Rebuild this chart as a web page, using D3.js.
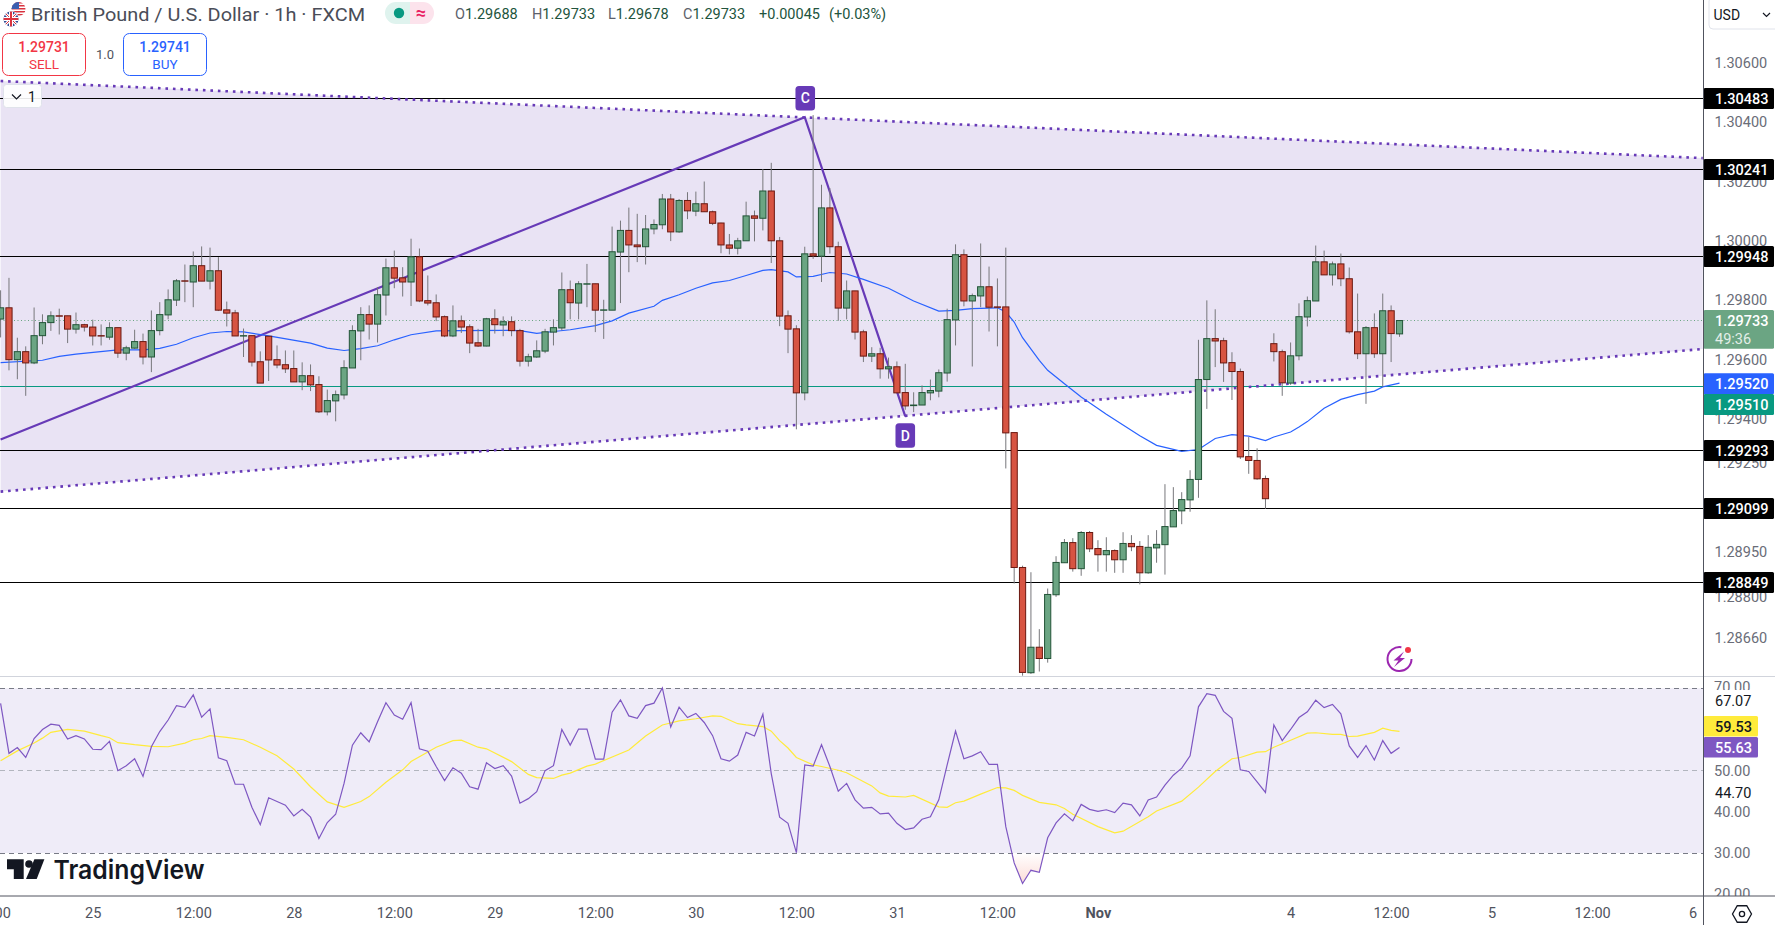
<!DOCTYPE html>
<html><head><meta charset="utf-8">
<script src="https://cdnjs.cloudflare.com/ajax/libs/d3/7.8.5/d3.min.js"></script>
<style>html,body{margin:0;padding:0;background:#fff;overflow:hidden}svg{display:block}text{font-family:Roboto,sans-serif}</style>
</head><body><svg id="c" width="1775" height="925"></svg>
<script>
const opens=[1.29738,1.29776,1.29601,1.29628,1.29590,1.29682,1.29726,1.29749,1.29749,1.29704,1.29719,1.29711,1.29682,1.29677,1.29709,1.29623,1.29640,1.29662,1.29610,1.29699,1.29752,1.29802,1.29867,1.29863,1.29918,1.29866,1.29901,1.29769,1.29759,1.29681,1.29682,1.29594,1.29680,1.29601,1.29584,1.29571,1.29526,1.29547,1.29517,1.29425,1.29462,1.29482,1.29573,1.29698,1.29753,1.29721,1.29819,1.29911,1.29877,1.29863,1.29948,1.29800,1.29793,1.29746,1.29681,1.29732,1.29712,1.29658,1.29647,1.29739,1.29718,1.29729,1.29699,1.29596,1.29610,1.29630,1.29694,1.29708,1.29837,1.29792,1.29856,1.29857,1.29768,1.29768,1.29964,1.30037,1.29988,1.29982,1.30042,1.30056,1.30143,1.30032,1.30138,1.30102,1.30127,1.30100,1.30062,1.29988,1.29977,1.30002,1.30086,1.30078,1.30170,1.30002,1.29749,1.29705,1.29489,1.29958,1.29950,1.30113,1.29982,1.29775,1.29833,1.29695,1.29613,1.29621,1.29570,1.29577,1.29490,1.29446,1.29448,1.29489,1.29495,1.29556,1.29735,1.29955,1.29799,1.29816,1.29847,1.29779,1.29779,1.29355,1.28900,1.28545,1.28631,1.28593,1.28808,1.28916,1.28984,1.28896,1.29018,1.28964,1.28943,1.28957,1.28926,1.28981,1.28971,1.28882,1.28966,1.28977,1.29037,1.29091,1.29128,1.29197,1.29534,1.29672,1.29665,1.29591,1.29561,1.29274,1.29261,1.29200,1.29655,1.29628,1.29522,1.29614,1.29745,1.29799,1.29931,1.29887,1.29924,1.29874,1.29695,1.29621,1.29709,1.29621,1.29766,1.29688];
const highs=[1.29835,1.29877,1.29675,1.29646,1.29777,1.29754,1.29764,1.29773,1.29749,1.29760,1.29722,1.29736,1.29720,1.29727,1.29709,1.29648,1.29702,1.29689,1.29767,1.29795,1.29838,1.29873,1.29922,1.29966,1.29983,1.29979,1.29947,1.29797,1.29769,1.29706,1.29682,1.29629,1.29680,1.29649,1.29632,1.29632,1.29592,1.29585,1.29545,1.29500,1.29497,1.29599,1.29717,1.29778,1.29784,1.29846,1.29942,1.29969,1.29913,1.30009,1.29976,1.29885,1.29821,1.29750,1.29784,1.29750,1.29720,1.29705,1.29742,1.29771,1.29747,1.29747,1.29705,1.29621,1.29666,1.29705,1.29737,1.29895,1.29868,1.29866,1.29924,1.29857,1.29803,1.30050,1.30070,1.30114,1.30093,1.30089,1.30074,1.30160,1.30160,1.30143,1.30166,1.30168,1.30202,1.30104,1.30063,1.30025,1.30012,1.30134,1.30104,1.30244,1.30265,1.30015,1.29767,1.29717,1.29982,1.30426,1.30191,1.30180,1.29999,1.29868,1.29833,1.29702,1.29643,1.29641,1.29608,1.29595,1.29587,1.29491,1.29514,1.29534,1.29568,1.29773,1.29990,1.29973,1.29824,1.29993,1.29915,1.29875,1.29979,1.29355,1.28906,1.28884,1.28692,1.28829,1.28938,1.28996,1.28999,1.29023,1.29023,1.28992,1.29002,1.28961,1.29019,1.29009,1.28989,1.29009,1.29026,1.29181,1.29171,1.29154,1.29228,1.29668,1.29801,1.29771,1.29675,1.29626,1.29571,1.29340,1.29302,1.29210,1.29690,1.29635,1.29659,1.29791,1.29814,1.29986,1.29969,1.29932,1.29959,1.29912,1.29824,1.29714,1.29757,1.29824,1.29784,1.29733];
const lows=[1.29676,1.29565,1.29535,1.29479,1.29586,1.29653,1.29698,1.29686,1.29657,1.29689,1.29696,1.29649,1.29649,1.29668,1.29607,1.29599,1.29638,1.29585,1.29559,1.29683,1.29737,1.29782,1.29795,1.29778,1.29866,1.29838,1.29765,1.29713,1.29681,1.29610,1.29578,1.29522,1.29529,1.29572,1.29556,1.29526,1.29498,1.29495,1.29421,1.29413,1.29393,1.29467,1.29573,1.29599,1.29669,1.29659,1.29750,1.29842,1.29814,1.29782,1.29795,1.29784,1.29731,1.29677,1.29677,1.29691,1.29623,1.29644,1.29646,1.29689,1.29680,1.29680,1.29578,1.29578,1.29607,1.29623,1.29649,1.29700,1.29737,1.29737,1.29778,1.29694,1.29671,1.29768,1.29792,1.29896,1.29930,1.29922,1.30024,1.30041,1.30001,1.30029,1.30075,1.30085,1.30100,1.30055,1.29960,1.29956,1.29956,1.30002,1.30000,1.30037,1.29927,1.29714,1.29623,1.29366,1.29464,1.29941,1.29863,1.29959,1.29732,1.29737,1.29669,1.29593,1.29593,1.29537,1.29537,1.29489,1.29432,1.29424,1.29448,1.29464,1.29474,1.29527,1.29649,1.29781,1.29578,1.29778,1.29696,1.29646,1.29234,1.28846,1.28535,1.28541,1.28549,1.28579,1.28801,1.28916,1.28886,1.28872,1.28952,1.28886,1.28886,1.28882,1.28882,1.28955,1.28843,1.28879,1.28916,1.28876,1.29037,1.29046,1.29088,1.29135,1.29435,1.29576,1.29526,1.29465,1.29266,1.29216,1.29196,1.29098,1.29595,1.29479,1.29516,1.29599,1.29713,1.29799,1.29887,1.29851,1.29849,1.29689,1.29603,1.29452,1.29607,1.29510,1.29593,1.29678];
const closes=[1.29776,1.29601,1.29628,1.29590,1.29682,1.29726,1.29749,1.29748,1.29704,1.29719,1.29711,1.29681,1.29681,1.29709,1.29623,1.29641,1.29662,1.29610,1.29699,1.29753,1.29803,1.29867,1.29866,1.29918,1.29866,1.29901,1.29768,1.29758,1.29681,1.29682,1.29593,1.29522,1.29600,1.29583,1.29570,1.29526,1.29547,1.29516,1.29425,1.29463,1.29483,1.29574,1.29699,1.29753,1.29721,1.29820,1.29911,1.29876,1.29863,1.29948,1.29799,1.29792,1.29745,1.29681,1.29732,1.29711,1.29657,1.29647,1.29739,1.29719,1.29729,1.29699,1.29596,1.29611,1.29631,1.29695,1.29709,1.29837,1.29793,1.29857,1.29857,1.29768,1.29769,1.29965,1.30037,1.29988,1.29982,1.30042,1.30057,1.30143,1.30032,1.30138,1.30103,1.30127,1.30100,1.30061,1.29988,1.29977,1.30002,1.30086,1.30078,1.30170,1.30002,1.29748,1.29704,1.29489,1.29958,1.29951,1.30113,1.29982,1.29775,1.29833,1.29694,1.29613,1.29621,1.29570,1.29577,1.29489,1.29445,1.29448,1.29490,1.29497,1.29557,1.29736,1.29955,1.29799,1.29817,1.29847,1.29778,1.29778,1.29354,1.28900,1.28546,1.28631,1.28593,1.28809,1.28917,1.28984,1.28896,1.29018,1.28963,1.28943,1.28957,1.28926,1.28981,1.28970,1.28882,1.28968,1.28978,1.29038,1.29092,1.29129,1.29197,1.29534,1.29672,1.29664,1.29590,1.29561,1.29273,1.29261,1.29199,1.29132,1.29628,1.29523,1.29614,1.29746,1.29800,1.29931,1.29887,1.29924,1.29874,1.29695,1.29621,1.29709,1.29621,1.29766,1.29689,1.29733];

const maIdx=[0,5,7,9,14,17,19,21,23,25,27,29,32,37,39,41,43,45,47,49,52,55,60,62,64,66,68,71,73,75,78,79,81,83,85,87,89,91,92,94,95,97,99,101,103,106,109,112,114,116,119,120,121,122,124,125,127,129,132,136,138,141,143,145,147,149,151,152,154,155,156,158,160,162,164,165,167];
const maVal=[1.29591,1.29599,1.29612,1.29620,1.29634,1.29634,1.29639,1.29653,1.29675,1.29691,1.29696,1.29695,1.29681,1.29657,1.29640,1.29632,1.29638,1.29648,1.29668,1.29685,1.29698,1.29699,1.29700,1.29699,1.29690,1.29696,1.29702,1.29716,1.29732,1.29758,1.29781,1.29801,1.29820,1.29842,1.29860,1.29868,1.29885,1.29902,1.29905,1.29897,1.29880,1.29882,1.29895,1.29890,1.29872,1.29842,1.29799,1.29765,1.29767,1.29773,1.29776,1.29762,1.29728,1.29675,1.29599,1.29565,1.29520,1.29475,1.29417,1.29344,1.29312,1.29292,1.29298,1.29335,1.29348,1.29343,1.29328,1.29340,1.29357,1.29374,1.29392,1.29437,1.29467,1.29483,1.29495,1.29509,1.29522];

const rsiVal=[66.35,54.2,55.6,53.2,57.8,60.0,61.3,61.0,57.7,58.5,57.7,55.2,55.1,57.1,50.0,51.2,52.9,48.6,55.8,59.5,62.3,65.8,65.4,68.4,63.0,65.0,53.1,52.4,46.7,46.7,41.1,36.9,43.4,42.5,41.6,39.0,40.6,38.7,33.5,37.4,39.4,46.9,56.2,59.2,57.0,61.9,66.5,63.5,62.5,66.5,55.3,54.7,51.0,47.6,50.7,49.4,46.1,45.5,51.9,50.5,51.2,48.7,42.1,43.2,44.9,50.0,51.2,60.0,56.2,60.1,60.1,52.8,
52.8,64.2,67.2,63.3,62.7,65.8,66.4,70.1,60.6,65.4,62.9,63.9,61.7,58.5,52.9,52.3,53.8,59.3,58.4,63.7,49.3,38.7,37.2,30.1,51.4,51.1,56.3,51.0,45.0,46.9,42.9,40.9,41.1,39.5,39.7,37.2,35.7,36.1,38.2,38.8,42.9,51.4,59.6,52.9,53.6,54.6,51.5,51.5,36.4,27.6,22.6,25.8,25.3,33.7,37.3,39.5,37.8,41.8,40.6,40.1,40.5,39.8,42.1,41.7,39.0,42.9,43.6,46.5,48.9,50.6,53.6,65.5,
68.7,68.3,64.4,62.7,50.2,49.8,47.3,44.7,61.1,57.3,60.0,62.9,64.3,67.1,65.3,66.1,63.8,56.0,53.2,56.1,52.6,57.3,54.2,55.63];
const sigIdx=[0,2,4,5,6,8,10,12,13,14,16,18,20,22,23,24,25,27,29,31,33,35,37,39,41,43,44,46,48,49,52,54,55,57,58,61,63,64,66,67,68,70,71,75,77,79,81,83,85,86,88,89,91,92,93,94,95,97,98,100,101,104,105,106,108,109,112,113,114,115,117,119,120,121,122,124,126,127,128,131,133,134,137,138,141,143,145,147,148,150,151,152,154,156,157,159,160,161,162,164,165,166,167];
const sigVal=[52.4,54.8,56.7,57.9,59.3,60.0,59.6,58.5,58.0,56.8,56.3,55.9,55.8,56.7,57.5,57.8,58.5,58.1,57.5,55.7,53.6,50.4,46.1,42.4,41.1,42.5,43.7,47.2,50.2,52.2,55.7,57.3,57.4,55.7,55.3,52.2,49.1,48.3,48.1,48.9,49.4,51.1,51.6,55.0,58.4,61.1,62.1,62.6,63.3,63.2,61.4,61.1,60.7,59.6,57.3,55.5,53.2,51.4,51.0,50.1,49.5,46.3,44.6,43.8,43.6,44.0,41.2,41.1,42.2,42.6,44.3,45.9,45.8,45.2,44.0,42.3,41.7,40.8,39.4,36.4,34.9,35.3,38.8,40.2,42.6,46.0,49.8,52.9,53.2,54.5,54.6,55.7,57.4,59.1,59.2,58.8,58.8,58.3,58.4,59.3,60.3,59.8,59.53];

const levelPrices=[1.30483,1.30241,1.29948,1.29293,1.29099,1.28849];
const priceTicks=[1.306,1.304,1.302,1.300,1.298,1.296,1.294,1.2925,1.2895,1.288,1.2866];
const rsiTicks=[70,50,40,30,20];
const timeIdx=[-1,11,23,35,47,59,71,83,95,107,119,131,154,166,178,190,202];
const timeLabels=["12:00","25","12:00","28","12:00","29","12:00","30","12:00","31","12:00","Nov","4","12:00","5","12:00","6"];
const wedgeTopIdx=[0,203.2], wedgeTopPrice=[1.30541,1.30281];
const wedgeBotIdx=[0,203.2], wedgeBotPrice=[1.29156,1.29637];
const patternIdx=[0,96,108], patternPrice=[1.29332,1.30419,1.29410];
const lastPrice=1.29733, bidLine=1.29510;

const W=1775,axisX=1703.5,paneB=676,timeY=896;
const svg=d3.select('#c');
const x=d3.scaleLinear().domain([0,167]).range([0.6,1399.5]);
const y=d3.scaleLinear().domain([1.30483,1.28849]).range([98.2,582.6]);
const r=d3.scaleLinear().domain([70,30]).range([688.3,853]);
const snap=v=>Math.floor(v)+.5;
const GREY='#6a6d78',PURPLE='#673ab7';
const defs=svg.append('defs');
defs.append('clipPath').attr('id','mainClip').append('rect').attr('x',0).attr('y',0).attr('width',axisX).attr('height',paneB);
defs.append('clipPath').attr('id','below').append('rect').attr('x',0).attr('y',r(30)).attr('width',axisX).attr('height',timeY-r(30));
const gr=defs.append('linearGradient').attr('id','ob').attr('gradientUnits','userSpaceOnUse').attr('x1',0).attr('x2',0).attr('y1',r(30)).attr('y2',r(22));
gr.append('stop').attr('offset','0').attr('stop-color','#fff');
gr.append('stop').attr('offset','1').attr('stop-color','#fcd9d4');

const main=svg.append('g').attr('clip-path','url(#mainClip)');
const wedge=[[wedgeTopIdx[0],wedgeTopPrice[0]],[wedgeTopIdx[1],wedgeTopPrice[1]],[wedgeBotIdx[1],wedgeBotPrice[1]],[wedgeBotIdx[0],wedgeBotPrice[0]]];
const ln=d3.line().x(d=>x(d[0])).y(d=>y(d[1]));
main.append('path').attr('d',ln(wedge)+'Z').attr('fill','#e9e3f4');
main.selectAll('.lvl').data(levelPrices).join('line').attr('class','lvl').attr('x1',0).attr('x2',axisX).attr('y1',d=>snap(y(d))).attr('y2',d=>snap(y(d))).attr('stroke','#000').attr('stroke-width',1);
main.append('line').attr('x1',0).attr('x2',axisX).attr('y1',snap(y(bidLine))).attr('y2',snap(y(bidLine))).attr('stroke','#089981').attr('stroke-width',1);
main.append('line').attr('x1',0).attr('x2',axisX).attr('y1',snap(y(lastPrice))).attr('y2',snap(y(lastPrice))).attr('stroke','#6ba583').attr('stroke-width',1).attr('stroke-dasharray','1 2.5');
[[wedgeTopIdx,wedgeTopPrice],[wedgeBotIdx,wedgeBotPrice]].forEach(([a,b])=>{
 main.append('path').attr('d',ln(a.map((v,i)=>[v,b[i]]))).attr('fill','none').attr('stroke',PURPLE).attr('stroke-width',2.6).attr('stroke-dasharray','2.6 4.9');
});
main.append('path').attr('d',ln(patternIdx.map((v,i)=>[v,patternPrice[i]]))).attr('fill','none').attr('stroke',PURPLE).attr('stroke-width',2.2);
main.append('path').attr('d',ln(maIdx.map((v,i)=>[v,maVal[i]]))).attr('fill','none').attr('stroke','#2962ff').attr('stroke-width',1.2);
const idx=d3.range(opens.length);
const up=i=>closes[i]>=opens[i];
main.selectAll('.w').data(idx).join('line').attr('class','w').attr('x1',i=>x(i)).attr('x2',i=>x(i)).attr('y1',i=>y(highs[i])).attr('y2',i=>y(lows[i])).attr('stroke','#77777b').attr('stroke-width',1);
main.selectAll('.b').data(idx).join('rect').attr('class','b').attr('x',i=>x(i)-3.1).attr('width',6.2)
 .attr('y',i=>y(Math.max(opens[i],closes[i]))).attr('height',i=>Math.max(Math.abs(y(opens[i])-y(closes[i])),0.4))
 .attr('fill',i=>up(i)?'#6ba583':'#d75442').attr('stroke',i=>up(i)?'#225437':'#6b1810').attr('stroke-width',1);
[['C',96,98.3],['D',108,435.5]].forEach(([t,i,cy])=>{
 const cx=x(i)+(t=='C'?0.5:0);
 main.append('rect').attr('x',cx-9.8).attr('y',cy-12.2).attr('width',19.6).attr('height',24.4).attr('rx',3.5).attr('fill',PURPLE);
 main.append('text').attr('x',cx).attr('y',cy).attr('dy','.36em').attr('text-anchor','middle').attr('fill','#fff').attr('font-size',14).attr('font-weight',500).text(t);
});

svg.append('rect').attr('x',0).attr('y',r(70)).attr('width',axisX).attr('height',r(30)-r(70)).attr('fill','#efecf8');
const rl=d3.line().x((d,i)=>x(i)).y(d=>r(d));
const area=d3.area().x((d,i)=>x(i)).y0(r(30)).y1(d=>r(d));
svg.append('path').attr('clip-path','url(#below)').attr('d',area(rsiVal)).attr('fill','url(#ob)');
[[70,'#787b86'],[50,'#b2b5be'],[30,'#787b86']].forEach(([v,c])=>svg.append('line').attr('x1',0).attr('x2',axisX).attr('y1',snap(r(v))).attr('y2',snap(r(v))).attr('stroke',c).attr('stroke-width',1).attr('stroke-dasharray','5 4'));
svg.append('path').attr('d',d3.line().x(d=>x(d[0])).y(d=>r(d[1]))(sigIdx.map((v,i)=>[v,sigVal[i]]))).attr('fill','none').attr('stroke','#ffeb3b').attr('stroke-width',1.2);
svg.append('path').attr('d',rl(rsiVal)).attr('fill','none').attr('stroke','#7e57c2').attr('stroke-width',1.2);

svg.append('line').attr('x1',0).attr('x2',W).attr('y1',paneB+.5).attr('y2',paneB+.5).attr('stroke','#d1d4dc').attr('stroke-width',1);
const fs=14.5;
const pa=svg.append('g').attr('transform',`translate(${axisX},0)`).call(d3.axisRight(y).tickValues(priceTicks).tickFormat(d3.format('.5f')).tickSize(0).tickPadding(11));
pa.select('.domain').remove(); pa.selectAll('text').attr('font-size',fs).attr('fill',GREY).attr('dy','.28em').style('font-family','Roboto');
const ra=svg.append('g').attr('transform',`translate(${axisX},0)`).call(d3.axisRight(r).tickValues(rsiTicks).tickFormat(d3.format('.2f')).tickSize(0).tickPadding(10.5));
ra.select('.domain').remove(); ra.selectAll('text').attr('font-size',fs).attr('fill',GREY).attr('dy','.32em').style('font-family','Roboto');
ra.selectAll('.tick').filter(d=>d==70).attr('transform','translate(0,687)');

function tag(cy,h,fill,txt,col,x2){
 svg.append('rect').attr('x',axisX).attr('y',cy-h/2).attr('width',(x2||1774)-axisX).attr('height',h).attr('fill',fill).attr('rx',1.5);
 svg.append('text').attr('x',1715).attr('y',cy).attr('dy','.36em').attr('font-size',fs).attr('font-weight',500).attr('fill',col).text(txt);
}
svg.append('rect').attr('x',1704).attr('y',690).attr('width',71).attr('height',21).attr('fill','#fff');
levelPrices.forEach(p=>tag(snap(y(p)),21,'#000',d3.format('.5f')(p),'#fff'));
tag(383.7,21,'#2962ff','1.29520','#fff');
tag(404.6,21,'#089981','1.29510','#fff');
svg.append('rect').attr('x',axisX).attr('y',310).attr('width',1774-axisX).attr('height',38.8).attr('fill','#6ba583').attr('rx',1.5);
svg.append('text').attr('x',1715).attr('y',y(lastPrice)).attr('dy','.36em').attr('font-size',fs).attr('font-weight',500).attr('fill','#fff').text('1.29733');
svg.append('text').attr('x',1715).attr('y',339).attr('dy','.36em').attr('font-size',fs).attr('fill','#e3eee8').text('49:36');
svg.append('text').attr('x',1715).attr('y',700.7).attr('dy','.36em').attr('font-size',fs).attr('fill','#131722').text('67.07');
svg.append('text').attr('x',1715).attr('y',792.7).attr('dy','.36em').attr('font-size',fs).attr('fill','#131722').text('44.70');
tag(726.3,20.6,'#ffeb3b','59.53','#131722',1758);
tag(747.3,20.6,'#7e57c2','55.63','#fff',1758);

svg.append('rect').attr('x',0).attr('y',timeY).attr('width',W).attr('height',925-timeY).attr('fill','#fff');
const ta=svg.append('g').attr('transform',`translate(0,${timeY})`).call(d3.axisBottom(x).tickValues(timeIdx).tickFormat((d,i)=>timeLabels[i]).tickSize(0).tickPadding(12));
ta.select('.domain').remove(); ta.selectAll('text').attr('font-size',fs).attr('fill','#50535e').attr('font-weight',(d,i)=>timeLabels[i]=='Nov'?700:400).style('font-family','Roboto');
svg.append('line').attr('x1',0).attr('x2',W).attr('y1',timeY).attr('y2',timeY).attr('stroke','#50535e').attr('stroke-width',1);
svg.append('line').attr('x1',axisX).attr('x2',axisX).attr('y1',0).attr('y2',925).attr('stroke','#50535e').attr('stroke-width',1);
const hex=d3.range(6).map(k=>{const a=k*Math.PI/3;return [1742+9.5*Math.cos(a),914+9.5*Math.sin(a)];});
svg.append('path').attr('d',d3.line()(hex)+'Z').attr('fill','none').attr('stroke','#131722').attr('stroke-width',1.3);
svg.append('circle').attr('cx',1742).attr('cy',914).attr('r',2.6).attr('fill','none').attr('stroke','#131722').attr('stroke-width',1.3);

svg.append('path').attr('d','M7 859.3H23.7V879H13.8V869.3H7Z').attr('fill','#131722');
svg.append('circle').attr('cx',29).attr('cy',864).attr('r',3.8).attr('fill','#131722');
svg.append('path').attr('d','M34.4 859.3H44.4L36.7 879H26Z').attr('fill','#131722');
svg.append('text').attr('x',53.5).attr('y',878.5).attr('font-size',26).attr('font-weight',600).attr('fill','#131722').attr('textLength',151).attr('lengthAdjust','spacingAndGlyphs').style('font-family','Inter').text('TradingView');

svg.append('path').attr('d',d3.arc()({innerRadius:11,outerRadius:13,startAngle:Math.PI*.5,endAngle:Math.PI*2.05})).attr('transform','translate(1399.5,659)').attr('fill','#9c27b0');
svg.append('path').attr('d','M1404 651.5L1393.5 660.5H1398.5L1394 667L1405 658H1400Z').attr('fill','#9c27b0');
svg.append('circle').attr('cx',1408).attr('cy',650).attr('r',3).attr('fill','#f23645');

svg.append('clipPath').attr('id','f1').append('circle').attr('cx',18.5).attr('cy',9).attr('r',7);
const us=svg.append('g').attr('clip-path','url(#f1)');
us.append('rect').attr('x',11).attr('y',2).attr('width',15).attr('height',14).attr('fill','#fff');
[2,5,8,11,14].forEach(v=>us.append('rect').attr('x',11).attr('y',v).attr('width',15).attr('height',1.5).attr('fill','#d9333f'));
us.append('rect').attr('x',11).attr('y',2).attr('width',8).attr('height',7).attr('fill','#3a5fb0');
svg.append('circle').attr('cx',11).attr('cy',19).attr('r',8).attr('fill','#fff');
svg.append('clipPath').attr('id','f2').append('circle').attr('cx',11).attr('cy',19).attr('r',7.5);
const uk=svg.append('g').attr('clip-path','url(#f2)');
uk.append('rect').attr('x',3).attr('y',11).attr('width',16).attr('height',16).attr('fill','#2f4a94');
uk.append('path').attr('d','M3 11L19 27M19 11L3 27').attr('stroke','#fff').attr('stroke-width',3);
uk.append('path').attr('d','M3 11L19 27M19 11L3 27').attr('stroke','#d9333f').attr('stroke-width',1);
uk.append('path').attr('d','M11 11V27M3 19H19').attr('stroke','#fff').attr('stroke-width',4);
uk.append('path').attr('d','M11 11V27M3 19H19').attr('stroke','#d9333f').attr('stroke-width',2);
svg.append('text').attr('x',31).attr('y',14).attr('dy','.36em').attr('font-size',18.5).attr('fill','#4a4d58').attr('textLength',334).attr('lengthAdjust','spacingAndGlyphs').text('British Pound / U.S. Dollar · 1h · FXCM');
svg.append('path').attr('d','M396 2H410V24H396A11 11 0 0 1 396 2Z').attr('fill','#dff3ee');
svg.append('path').attr('d','M410 2H423A11 11 0 0 1 423 24H410Z').attr('fill','#fce3ec');
svg.append('circle').attr('cx',399).attr('cy',13).attr('r',5.2).attr('fill','#089981');
svg.append('text').attr('x',421).attr('y',13).attr('dy','.36em').attr('text-anchor','middle').attr('font-size',18).attr('font-weight',700).attr('fill','#e91e63').text('≈');
const ohlcLabels=['O','H','L','C'],ohlcVals=['1.29688','1.29733','1.29678','1.29733'],ohlcX=[455,532,608,683];
ohlcLabels.forEach((l,i)=>{
 const t=svg.append('text').attr('x',ohlcX[i]).attr('y',14).attr('dy','.36em').attr('font-size',fs);
 t.append('tspan').attr('fill','#5d606b').text(l);
 t.append('tspan').attr('fill','#22543d').text(ohlcVals[i]);
});
svg.append('text').attr('x',759).attr('y',14).attr('dy','.36em').attr('font-size',fs).attr('fill','#22543d').text('+0.00045');
svg.append('text').attr('x',829).attr('y',14).attr('dy','.36em').attr('font-size',fs).attr('fill','#22543d').text('(+0.03%)');
[[2.5,'#f23645','1.29731','SELL'],[123.5,'#2962ff','1.29741','BUY']].forEach(([bx,c,p,l])=>{
 svg.append('rect').attr('x',bx).attr('y',33.5).attr('width',83).attr('height',42).attr('rx',6).attr('fill','#fff').attr('stroke',c).attr('stroke-width',1);
 svg.append('text').attr('x',bx+41.5).attr('y',47).attr('dy','.36em').attr('text-anchor','middle').attr('font-size',14).attr('font-weight',500).attr('fill',c).text(p);
 svg.append('text').attr('x',bx+41.5).attr('y',64).attr('dy','.36em').attr('text-anchor','middle').attr('font-size',13.5).attr('fill',c).text(l);
});
svg.append('text').attr('x',105).attr('y',54).attr('dy','.36em').attr('text-anchor','middle').attr('font-size',13).attr('fill','#50535e').text('1.0');
svg.append('rect').attr('x',3.5).attr('y',84.5).attr('width',38).attr('height',23).attr('rx',3).attr('fill','#fff').attr('fill-opacity',.9).attr('stroke','#e0e3eb');
svg.append('path').attr('d','M12 94.5L16.5 99L21 94.5').attr('fill','none').attr('stroke','#131722').attr('stroke-width',1.2);
svg.append('text').attr('x',32).attr('y',97).attr('dy','.36em').attr('text-anchor','middle').attr('font-size',14).attr('fill','#131722').text('1');
svg.append('rect').attr('x',1709).attr('y',-3).attr('width',70).attr('height',32).attr('rx',4).attr('fill','#fff').attr('stroke','#e0e3eb');
svg.append('text').attr('x',1713.5).attr('y',15).attr('dy','.36em').attr('font-size',14).attr('fill','#131722').text('USD');
svg.append('path').attr('d','M1763 13L1766.5 16.5L1770 13').attr('fill','none').attr('stroke','#131722').attr('stroke-width',1.2);
</script></body></html>
